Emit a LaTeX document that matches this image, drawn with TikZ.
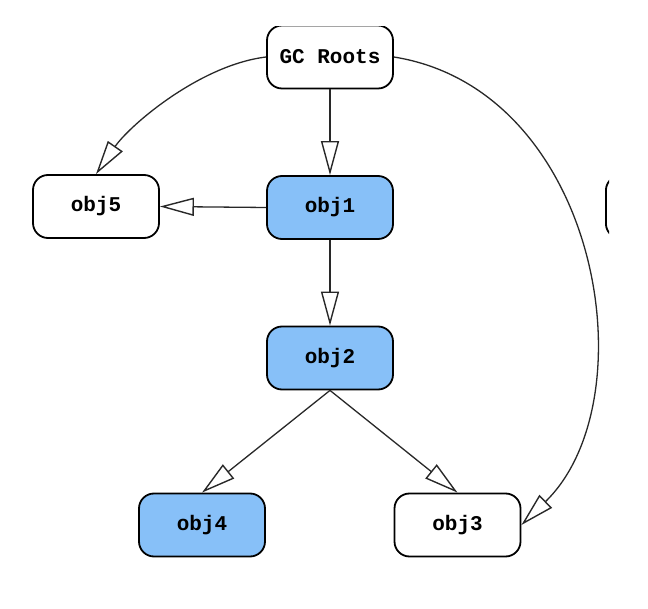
\documentclass[tikz,border=0pt]{standalone}
\usepackage{fontspec}
\setmonofont{Liberation Mono}
\usetikzlibrary{arrows.meta}
\definecolor{reach}{RGB}{135,192,248}
\definecolor{edgeink}{RGB}{40,40,40}
\begin{document}
\begin{tikzpicture}[x=1pt,y=-1pt,
  objbox/.style={draw=black, line width=1.8pt, rounded corners=15pt,
    minimum width=126pt, minimum height=63pt, inner sep=0pt,
    font=\fontsize{21}{24}\selectfont\ttfamily\bfseries},
  live/.style={objbox, fill=reach},
  dead/.style={objbox, fill=white},
  ref/.style={draw=edgeink, line width=1.3pt,
    -{Triangle[open, length=34pt, width=18pt, line width=1.4pt]}}]
\useasboundingbox (0,0) rectangle (648,609);
\clip (0,27) rectangle (609,609);

% object graph
\node[dead] (roots) at (330,57) {GC Roots};
\node[live] (obj1) at (330,207.5) {obj1};
\node[dead] (obj5) at (96,206.5) {obj5};
\node[live] (obj2) at (330,358) {obj2};
\node[live] (obj4) at (202,525) {obj4};
\node[dead] (obj3) at (457.5,525) {obj3};
\node[dead, anchor=west] (objx) at (605,207) {};

% references
\draw[ref] (roots.south) -- (obj1.north);
\draw[ref] (obj1.west) -- (obj5.east);
\draw[ref] (obj1.south) -- (obj2.north);
\draw[ref] (obj2.south) -- (obj4.north);
\draw[ref] (obj2.south) -- (obj3.north);
\draw[ref] (roots.west) .. controls (200,65) and (130,125) .. (obj5.north);
\draw[ref] (roots.east) .. controls (600,90) and (650,400) .. (obj3.east);
\end{tikzpicture}
\end{document}
